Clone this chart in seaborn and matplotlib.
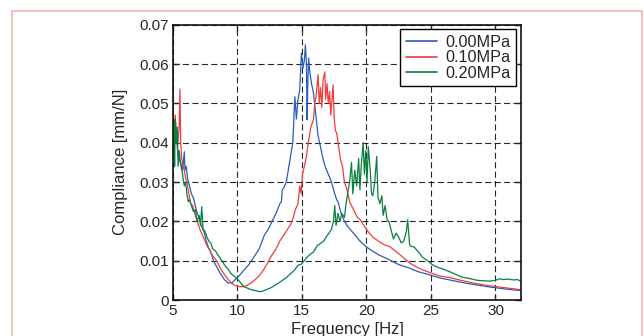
import matplotlib
matplotlib.use('Agg')
import matplotlib.pyplot as plt
import seaborn as sns

sns.set_style('ticks')
plt.rcParams['font.family'] = ['Liberation Sans', 'DejaVu Sans']

# 0.00MPa
f0 = [5.0, 5.04, 5.1, 5.2, 5.3, 5.4, 5.5, 5.6, 5.7, 5.8, 5.9, 5.95, 6.05, 6.15, 6.3, 6.45, 6.6, 6.75,
      6.9, 7.05, 7.2, 7.35, 7.5, 7.6, 7.75, 7.9, 8.05, 8.15, 8.4, 8.6, 8.8, 9.0, 9.3, 9.6, 9.85, 10.1,
      10.5, 10.9, 11.3, 11.7, 12.1, 12.4, 12.7, 13.0, 13.3, 13.42, 13.48, 13.6, 13.8, 14.0, 14.2, 14.3,
      14.36, 14.46, 14.58, 14.7, 14.84, 14.97, 15.1, 15.2, 15.28, 15.36, 15.41, 15.47, 15.53, 15.62,
      15.75, 15.9, 16.02, 16.13, 16.25, 16.38, 16.6, 16.8, 17.05, 17.3, 17.55, 17.7, 17.8, 18.05, 18.3,
      18.6, 19.0, 19.5, 20.0, 20.5, 21.0, 21.8, 22.5, 23.35, 24.0, 24.9, 25.7, 26.45, 27.2, 28.0, 28.8,
      29.55, 30.3, 31.0, 32.0]
c0 = [0.061, 0.044, 0.046, 0.040, 0.041, 0.037, 0.036, 0.035, 0.033, 0.034, 0.0377, 0.033, 0.034,
      0.031, 0.029, 0.027, 0.026, 0.024, 0.022, 0.021, 0.019, 0.018, 0.0165, 0.015, 0.0135, 0.0125,
      0.0112, 0.0100, 0.0085, 0.0072, 0.0062, 0.0052, 0.0043, 0.0044, 0.0052, 0.0060, 0.0075, 0.0090,
      0.0110, 0.0130, 0.0165, 0.0180, 0.0200, 0.0220, 0.0245, 0.0250, 0.0280, 0.0285, 0.0300, 0.0340,
      0.0380, 0.0400, 0.0440, 0.0517, 0.0460, 0.0509, 0.0534, 0.0628, 0.0590, 0.0610, 0.0649, 0.0600,
      0.0458, 0.0560, 0.0615, 0.0580, 0.0550, 0.0527, 0.0490, 0.0458, 0.0420, 0.0400, 0.0365, 0.0340,
      0.0320, 0.0300, 0.0270, 0.0255, 0.0250, 0.0220, 0.0200, 0.0185, 0.0170, 0.0150, 0.0135, 0.0124,
      0.0114, 0.0102, 0.0090, 0.0081, 0.0072, 0.0064, 0.0056, 0.0051, 0.0046, 0.0041, 0.0037, 0.0033,
      0.0030, 0.0027, 0.0024]

# 0.10MPa
f1 = [5.0, 5.05, 5.1, 5.2, 5.3, 5.4, 5.5, 5.56, 5.62, 5.7, 5.8, 5.9, 6.0, 6.1, 6.25, 6.4, 6.55, 6.7,
      6.9, 7.1, 7.3, 7.5, 7.7, 7.9, 8.1, 8.4, 8.7, 9.0, 9.3, 9.6, 9.9, 10.2, 10.5, 10.8, 11.1, 11.4,
      11.77, 12.1, 12.4, 12.7, 13.0, 13.3, 13.6, 13.9, 14.1, 14.3, 14.5, 14.7, 14.85, 14.95, 15.05, 15.2,
      15.36, 15.5, 15.7, 15.9, 16.0, 16.1, 16.26, 16.35, 16.45, 16.55, 16.65, 16.78, 16.85, 16.95, 17.05,
      17.15, 17.25, 17.42, 17.5, 17.6, 17.7, 17.85, 18.0, 18.15, 18.3, 18.5, 18.7, 19.0, 19.3, 19.5,
      19.8, 20.1, 20.5, 21.0, 21.4, 21.8, 22.5, 23.0, 23.35, 24.0, 24.5, 24.9, 25.7, 26.45, 27.2, 28.0,
      28.8, 29.55, 30.3, 31.0, 32.0]
c1 = [0.053, 0.045, 0.042, 0.047, 0.041, 0.040, 0.044, 0.0536, 0.040, 0.036, 0.034, 0.033, 0.031,
      0.030, 0.027, 0.0245, 0.024, 0.022, 0.020, 0.018, 0.0165, 0.015, 0.0135, 0.0125, 0.0112, 0.0100,
      0.0080, 0.0065, 0.0052, 0.0042, 0.0036, 0.0034, 0.0034, 0.0038, 0.0044, 0.0052, 0.0064, 0.0080,
      0.0098, 0.0115, 0.0130, 0.0150, 0.0165, 0.0180, 0.0190, 0.0205, 0.0230, 0.0245, 0.0290, 0.0270,
      0.0320, 0.0340, 0.0365, 0.0400, 0.0440, 0.0458, 0.0500, 0.0517, 0.0573, 0.0500, 0.0540, 0.0490,
      0.0560, 0.0580, 0.0510, 0.0550, 0.0500, 0.0530, 0.0470, 0.0547, 0.0467, 0.0430, 0.0425, 0.0390,
      0.0356, 0.0340, 0.0300, 0.0280, 0.0250, 0.0230, 0.0210, 0.0205, 0.0190, 0.0175, 0.0160, 0.0148,
      0.0140, 0.0136, 0.0118, 0.0104, 0.0094, 0.0082, 0.0075, 0.0070, 0.0061, 0.0057, 0.0051, 0.0045,
      0.0040, 0.0036, 0.0033, 0.0030, 0.0026]

# 0.20MPa
f2 = [5.0, 5.05, 5.1, 5.15, 5.2, 5.28, 5.35, 5.42, 5.5, 5.6, 5.7, 5.8, 5.9, 6.0, 6.1, 6.2, 6.3, 6.45,
      6.6, 6.75, 6.9, 7.05, 7.15, 7.25, 7.35, 7.5, 7.65, 7.8, 7.95, 8.1, 8.3, 8.5, 8.7, 8.9, 9.1, 9.3,
      9.5, 9.7, 9.9, 10.1, 10.3, 10.5, 10.8, 11.1, 11.4, 11.75, 12.0, 12.3, 12.6, 12.9, 13.2, 13.5, 13.8,
      14.1, 14.4, 14.7, 15.0, 15.3, 15.6, 15.9, 16.2, 16.5, 16.7, 16.9, 17.1, 17.3, 17.45, 17.55, 17.65,
      17.8, 17.95, 18.1, 18.3, 18.45, 18.6, 18.7, 18.85, 18.95, 19.1, 19.25, 19.4, 19.5, 19.6, 19.75,
      19.85, 19.95, 20.05, 20.15, 20.3, 20.4, 20.5, 20.65, 20.8, 20.9, 21.05, 21.2, 21.3, 21.45, 21.6,
      21.75, 21.9, 22.1, 22.3, 22.5, 22.7, 22.9, 23.1, 23.2, 23.35, 23.5, 23.7, 23.95, 24.15, 24.3, 24.6,
      24.85, 25.1, 25.4, 25.7, 26.0, 26.3, 26.6, 27.0, 27.4, 27.8, 28.2, 28.6, 29.0, 29.55, 30.0, 30.3,
      30.6, 31.0, 31.4, 31.7, 32.0]
c2 = [0.046, 0.036, 0.045, 0.034, 0.046, 0.040, 0.044, 0.034, 0.038, 0.035, 0.034, 0.031, 0.029,
      0.030, 0.027, 0.025, 0.0255, 0.024, 0.0225, 0.023, 0.020, 0.0215, 0.019, 0.0237, 0.018, 0.0175,
      0.016, 0.015, 0.0145, 0.013, 0.0125, 0.0115, 0.0105, 0.0095, 0.0085, 0.0078, 0.0068, 0.0062,
      0.0057, 0.0050, 0.0042, 0.0034, 0.0030, 0.0026, 0.0024, 0.0021, 0.0023, 0.0027, 0.0031, 0.0037,
      0.0043, 0.0050, 0.0057, 0.0066, 0.0075, 0.0088, 0.0092, 0.0105, 0.0115, 0.0122, 0.0138, 0.0145,
      0.0150, 0.0161, 0.0170, 0.0180, 0.0200, 0.0240, 0.0190, 0.0220, 0.0200, 0.0220, 0.0210, 0.0250,
      0.0280, 0.0300, 0.0350, 0.0270, 0.0330, 0.0290, 0.0360, 0.0280, 0.0340, 0.0400, 0.0320, 0.0380,
      0.0300, 0.0390, 0.0330, 0.0270, 0.0265, 0.0300, 0.0365, 0.0260, 0.0245, 0.0265, 0.0215, 0.0240,
      0.0205, 0.0199, 0.0180, 0.0155, 0.0170, 0.0160, 0.0145, 0.0150, 0.0175, 0.0204, 0.0140, 0.0136,
      0.0135, 0.0125, 0.0118, 0.0110, 0.0103, 0.0097, 0.0090, 0.0085, 0.0081, 0.0078, 0.0074, 0.0070,
      0.0064, 0.0058, 0.0056, 0.0053, 0.0050, 0.0049, 0.0048, 0.0050, 0.0054, 0.0052, 0.0053, 0.0051,
      0.0052, 0.0047]

labels = ['0.00MPa', '0.10MPa', '0.20MPa']
colors = ['#2a5cb8', '#f03c3c', '#0a7f3f']
xticks = [5, 10, 15, 20, 25, 30]
yticks = [0, 0.01, 0.02, 0.03, 0.04, 0.05, 0.06, 0.07]
ytick_labels = ['0', '0.01', '0.02', '0.03', '0.04', '0.05', '0.06', '0.07']

fig = plt.figure(figsize = (6.44, 3.36), dpi = 100)
ax = fig.add_axes([172.7 / 644, 36 / 336, 348.6 / 644, 275.3 / 336])

for f, c, lab, col in zip([f0, f1, f2], [c0, c1, c2], labels, colors):
    sns.lineplot(x = f, y = c, ax = ax, color = col, linewidth = 0.9, label = lab,
                 estimator = None, sort = False)

ax.set_xlim(5, 32)
ax.set_ylim(0, 0.07)
ax.set_xticks(xticks)
ax.set_yticks(yticks)
ax.set_yticklabels(ytick_labels)
ax.grid(True, color = 'black', linestyle = (0, (5.5, 3)), linewidth = 0.8, alpha = 0.85)
ax.tick_params(direction = 'in', top = True, right = True, length = 4, width = 1,
               labelsize = 11, colors = '#262626', pad = 3)
for s in ax.spines.values():
    s.set_linewidth(1.2)
    s.set_color('#111111')

ax.set_xlabel('Frequency [Hz]', fontsize = 12, color = '#262626', labelpad = 3)
ax.set_ylabel('Compliance [mm/N]', fontsize = 12, color = '#262626', labelpad = 8)

leg = ax.legend(loc = 'upper right', bbox_to_anchor = (0.985, 0.983), borderaxespad = 0,
                fontsize = 11.7, handlelength = 1.9, handletextpad = 0.5, labelspacing = 0.02,
                fancybox = False, framealpha = 1, edgecolor = 'black', borderpad = 0.35)
leg.get_frame().set_linewidth(1.0)
for line in leg.get_lines():
    line.set_linewidth(1.2)

fig.add_artist(plt.Rectangle((12.5 / 644, -0.05), (642 - 12.5) / 644, 1.05 - 10.5 / 336,
                             transform = fig.transFigure, fill = False,
                             edgecolor = '#f2b4ac', linewidth = 1.2))

fig.savefig('out.png', dpi = 100)
